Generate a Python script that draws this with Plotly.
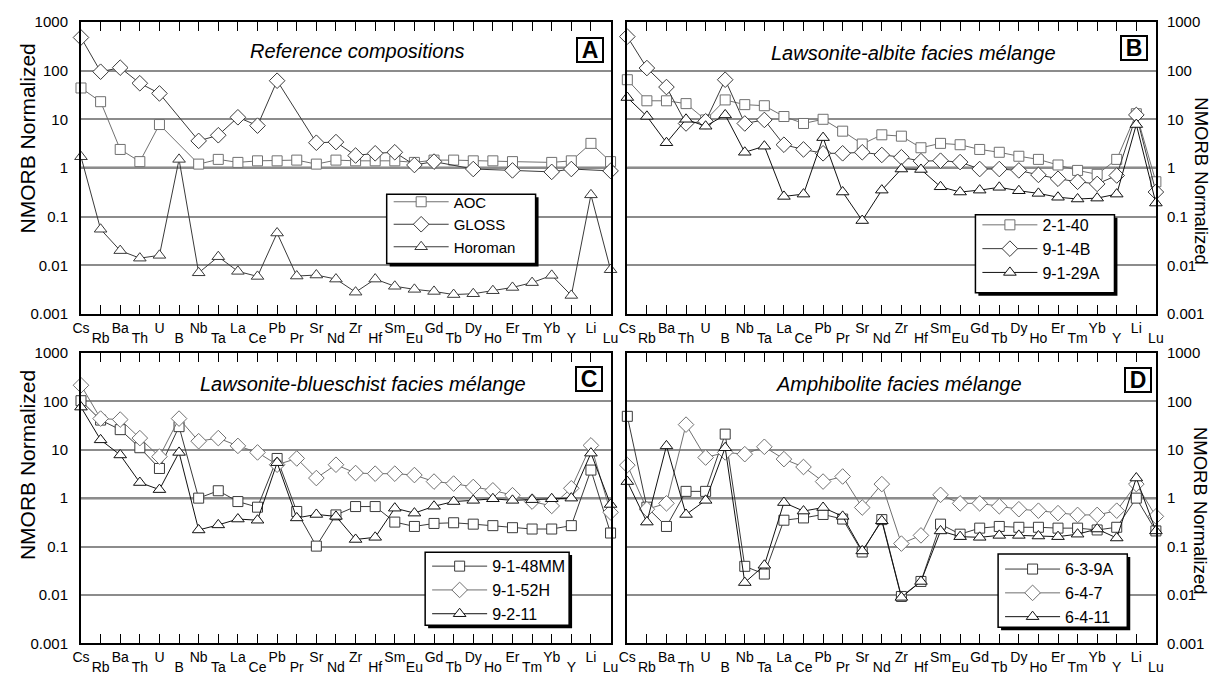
import plotly.graph_objects as go

# ---------------- data ----------------
categories = ["Cs", "Rb", "Ba", "Th", "U", "B", "Nb", "Ta", "La", "Ce", "Pb", "Pr", "Sr", "Nd",
              "Zr", "Hf", "Sm", "Eu", "Gd", "Tb", "Dy", "Ho", "Er", "Tm", "Yb", "Y", "Li", "Lu"]

y_tick_values = [0.001, 0.01, 0.1, 1, 10, 100, 1000]
y_tick_labels = ["0.001", "0.01", "0.1", "1", "10", "100", "1000"]

# Panel A - reference compositions
aoc = [44, 23, 2.4, 1.35, 7.8, None, 1.2, 1.5, 1.3, 1.4, 1.4, 1.45, 1.2, 1.45,
       1.4, 1.4, 1.4, 1.3, 1.45, 1.45, 1.4, 1.4, 1.35, None, 1.3, 1.4, 3.2, 1.35]
gloss = [480, 95, 115, 55, 34, None, 3.6, 4.7, 11, 7.4, 62, None, 3.3, 3.4,
         1.8, 2.0, 2.1, 1.15, 1.35, None, 0.95, None, 0.89, None, 0.83, 0.95, None, 0.87]
horoman = [1.7, 0.055, 0.02, 0.014, 0.016, 1.5, 0.007, 0.015, 0.0075, 0.0059, 0.046, 0.006, 0.0063, 0.0052,
           0.0028, 0.0052, 0.0037, 0.0032, 0.0029, 0.0025, 0.0026, 0.003, 0.0035, 0.0044, 0.0062, 0.0024, 0.28, 0.0081]

# Panel B - lawsonite-albite facies
s_2_1_40 = [65, 24, 24, 21, 9.7, 25, 20, 19, 11.4, 8.2, 10, 5.7, 3.1, 4.8,
            4.5, 2.6, 3.2, 3.0, 2.4, 2.1, 1.74, 1.5, 1.15, 0.89, 0.74, 1.5, 13, 0.52]
s_9_1_4b = [500, 113, 46, 8.2, 9.1, 65, 8.2, 9.7, 3.0, 2.4, 2.0, 2.0, 2.1, 1.85,
            1.66, 1.38, 1.41, 1.32, 0.95, 0.95, 0.89, 0.72, 0.6, 0.52, 0.47, 0.7, 12.3, 0.32]
s_9_1_29a = [28, 11.5, 3.3, 10, 7.2, 12.3, 2.1, 2.8, 0.26, 0.29, 4.2, 0.32, 0.083, 0.35,
             0.95, 0.93, 0.41, 0.32, 0.35, 0.4, 0.34, 0.3, 0.25, 0.23, 0.24, 0.29, 7.8, 0.19]

# Panel C - lawsonite-blueschist facies
s_9_1_48mm = [103, 41, 26, 11, 4.1, 30, 1.0, 1.42, 0.85, 0.65, 6.6, 0.53, 0.102, 0.45,
              0.67, 0.67, 0.32, 0.26, 0.3, 0.31, 0.29, 0.27, 0.245, 0.23, 0.23, 0.27, 3.8, 0.19]
s_9_1_52h = [215, 44, 42, 17.4, 7.2, 44, 15, 17.4, 12, 8.8, 4.9, 6.6, 2.6, 4.9,
             3.3, 3.2, 3.2, 3.0, 2.2, 2.0, 1.7, 1.45, 1.15, 0.85, 0.69, 1.6, 12.3, 0.51]
s_9_2_11 = [76, 16, 7.8, 2.1, 1.5, 8.8, 0.22, 0.28, 0.37, 0.35, 5.4, 0.39, 0.46, 0.42,
            0.14, 0.155, 0.62, 0.49, 0.68, 0.85, 0.9, 0.97, 0.9, 0.93, 0.97, 1.0, 8.5, 0.74]

# Panel D - amphibolite facies
s_6_3_9a = [49, 0.65, 0.26, 1.38, 1.38, 21, 0.039, 0.027, 0.35, 0.39, 0.46, 0.37, 0.077, 0.36,
            0.0093, 0.019, 0.29, 0.18, 0.24, 0.26, 0.25, 0.25, 0.24, 0.24, 0.22, 0.25, 1.0, 0.21]
s_6_4_7 = [4.8, 0.59, 0.78, 33, 6.9, 8.8, 8.1, 11.5, 6.4, 4.4, 2.2, 2.8, 0.64, 1.95,
           0.115, 0.17, 1.17, 0.78, 0.78, 0.68, 0.59, 0.55, 0.49, 0.45, 0.45, 0.55, 1.95, 0.42]
s_6_4_11 = [2.2, 0.32, 12, 0.46, 0.9, 11, 0.018, 0.041, 0.81, 0.54, 0.64, 0.42, 0.081, 0.34,
            0.0089, 0.019, 0.21, 0.16, 0.155, 0.17, 0.17, 0.165, 0.16, 0.18, 0.23, 0.15, 2.6, 0.21]

# ---------------- layout helpers ----------------
W, H = 1227, 684
FONT = "Liberation Sans, Arial, Helvetica, sans-serif"


def fx(p):
    return p / W


def fy(p):
    return 1 - p / H


GRAY, DARK, BLACK = "#707070", "#3a3a3a", "#111111"
SYM = {"square": 10, "diamond": 12, "triangle-up": 11}

panels = [
    dict(letter="A", title="Reference compositions", xd=(73, 610), yd=(13.3, 312.7), side="left",
         title_pos=(353, 43), letter_pos=(589.5, 42), ytitle_pos=(19, 133), legend_box=(383, 190, 534, 261),
         legend_top=181, legend_font=15,
         series=[("AOC", aoc, "square", GRAY), ("GLOSS", gloss, "diamond", DARK), ("Horoman", horoman, "triangle-up", DARK)]),
    dict(letter="B", title="Lawsonite-albite facies mélange", xd=(627, 1163), yd=(13.3, 312.7), side="right",
         title_pos=(917, 45), letter_pos=(1141, 40.5), ytitle_pos=(1209, 177), legend_box=(980, 211, 1121, 291),
         legend_top=204, legend_font=16,
         series=[("2-1-40", s_2_1_40, "square", GRAY), ("9-1-4B", s_9_1_4b, "diamond", DARK), ("9-1-29A", s_9_1_29a, "triangle-up", BLACK)]),
    dict(letter="C", title="Lawsonite-blueschist facies mélange", xd=(73, 610), yd=(352.7, 650.5), side="left",
         title_pos=(359, 385), letter_pos=(588.5, 379.5), ytitle_pos=(19, 468), legend_box=(422, 557, 568, 632),
         legend_top=554, legend_font=16,
         series=[("9-1-48MM", s_9_1_48mm, "square", DARK), ("9-1-52H", s_9_1_52h, "diamond", GRAY), ("9-2-11", s_9_2_11, "triangle-up", BLACK)]),
    dict(letter="D", title="Amphibolite facies mélange", xd=(627, 1163), yd=(352.7, 650.5), side="right",
         title_pos=(902, 385), letter_pos=(1144.5, 380), ytitle_pos=(1209, 515), legend_box=(1003, 559, 1134, 634),
         legend_top=557, legend_font=16,
         series=[("6-3-9A", s_6_3_9a, "square", DARK), ("6-4-7", s_6_4_7, "diamond", GRAY), ("6-4-11", s_6_4_11, "triangle-up", BLACK)]),
]

fig = go.Figure()
layout = dict(width=W, height=H, margin=dict(l=0, r=0, t=0, b=0), paper_bgcolor="white",
              plot_bgcolor="white", font=dict(family=FONT, color="black"), showlegend=True)
shapes, annotations = [], []
xpos = list(range(len(categories)))

for i, p in enumerate(panels, start=1):
    xa = "x" if i == 1 else f"x{i}"
    ya = "y" if i == 1 else f"y{i}"
    xo = f"x{i + 4}"
    leg = "legend" if i == 1 else f"legend{i}"
    xdom = [fx(p["xd"][0]), fx(p["xd"][1])]
    ydom = [fy(p["yd"][1]), fy(p["yd"][0])]

    for name, vals, sym, col in p["series"]:
        fig.add_trace(go.Scatter(
            x=xpos, y=vals, name=name, mode="lines+markers", connectgaps=True,
            xaxis=xa, yaxis=ya, legend=leg, cliponaxis=False,
            line=dict(color=col, width=1),
            marker=dict(symbol=sym, size=SYM[sym], color="white", line=dict(color=col, width=1)),
        ))
    # overlay axis carrying the second row of element labels
    fig.add_trace(go.Scatter(x=[None], y=[None], xaxis=xo, yaxis=ya, showlegend=False, hoverinfo="skip"))

    layout[f"xaxis{'' if i == 1 else i}"] = dict(
        domain=xdom, anchor=ya, range=[0, len(categories) - 1], tickmode="array", tickvals=xpos,
        ticktext=[c if j % 2 == 0 else "" for j, c in enumerate(categories)],
        ticks="inside", ticklen=9, tickwidth=1, tickcolor="black", showline=True, linewidth=2,
        linecolor="black", mirror="ticks", showgrid=False, zeroline=False,
        tickfont=dict(size=14, family=FONT), ticklabelstandoff=0, tickangle=0)
    layout[f"xaxis{i + 4}"] = dict(
        overlaying=xa, anchor=ya, side="bottom", range=[0, len(categories) - 1], tickmode="array",
        tickvals=[j for j in xpos if j % 2 == 1], ticktext=[c for j, c in enumerate(categories) if j % 2 == 1],
        ticks="", showline=False, showgrid=False, zeroline=False,
        tickfont=dict(size=14, family=FONT), ticklabelstandoff=14, tickangle=0)
    layout[f"yaxis{'' if i == 1 else i}"] = dict(
        domain=ydom, anchor=xa, type="log", range=[-3, 3], tickmode="array", tickvals=y_tick_values,
        ticktext=y_tick_labels, side=p["side"], showgrid=True, gridcolor="#8c8c8c", gridwidth=1.5,
        showline=True, linewidth=2, linecolor="black", mirror=True, ticks="", zeroline=False,
        tickfont=dict(size=15, family=FONT), ticklabelstandoff=8 if p["side"] == "left" else 6)

    # heavy line at 1 (middle of the six decades)
    shapes.append(dict(type="line", xref=f"{xa} domain", yref=f"{ya} domain", x0=0, x1=1, y0=0.5, y1=0.5,
                       line=dict(color="black", width=2.2), layer="below"))

    # legend box with drop shadow
    L, T, R, B = p["legend_box"]
    shapes.append(dict(type="rect", xref="paper", yref="paper", x0=fx(L + 3), x1=fx(R + 3), y0=fy(B + 3), y1=fy(T + 3),
                       fillcolor="black", line=dict(width=0), layer="above"))
    shapes.append(dict(type="rect", xref="paper", yref="paper", x0=fx(L), x1=fx(R), y0=fy(B), y1=fy(T),
                       fillcolor="white", line=dict(color="black", width=1.5), layer="above"))
    layout[leg] = dict(x=fx(L + 2), y=fy(p["legend_top"]), xanchor="left", yanchor="top", bgcolor="rgba(0,0,0,0)",
                       borderwidth=0, font=dict(size=p["legend_font"], family=FONT, color="black"), itemwidth=55,
                       tracegroupgap=0)

    # panel title (italic)
    annotations.append(dict(text=f"<i>{p['title']}</i>", xref="paper", yref="paper",
                            x=fx(p["title_pos"][0]), y=fy(p["title_pos"][1]), xanchor="center", yanchor="middle",
                            showarrow=False, font=dict(size=20, family=FONT)))
    # panel letter box
    annotations.append(dict(text=f"<b>{p['letter']}</b>", xref="paper", yref="paper",
                            x=fx(p["letter_pos"][0]), y=fy(p["letter_pos"][1]), xanchor="center", yanchor="middle",
                            showarrow=False, font=dict(size=23, family=FONT), bgcolor="white",
                            bordercolor="black", borderwidth=2, borderpad=0, width=24, height=22))
    # y-axis title
    left = p["side"] == "left"
    annotations.append(dict(text="NMORB Normalized", xref="paper", yref="paper",
                            x=fx(p["ytitle_pos"][0]), y=fy(p["ytitle_pos"][1]), xanchor="center", yanchor="middle",
                            showarrow=False, textangle=-90 if left else 90,
                            font=dict(size=21 if left else 18.5, family=FONT)))

layout["shapes"] = shapes
layout["annotations"] = annotations
fig.update_layout(**layout)
fig.write_html("out.html")
